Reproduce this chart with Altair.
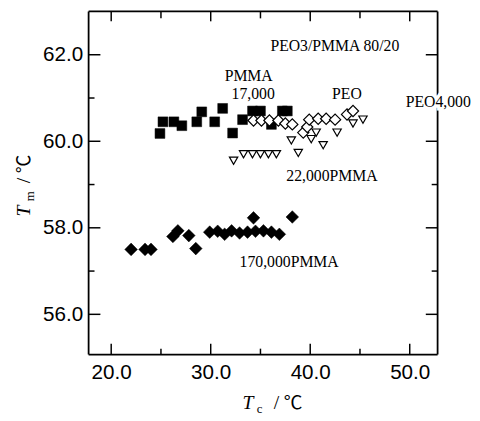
import altair as alt
import pandas as pd

# PMMA 17,000 (filled squares)
sq_x = [24.9, 25.2, 26.3, 27.1, 28.6, 29.1, 30.4, 31.2, 32.2, 33.2, 34.2, 35.0, 36.1, 37.2, 37.7]
sq_y = [60.18, 60.45, 60.45, 60.36, 60.45, 60.68, 60.45, 60.76, 60.19, 60.5, 60.70, 60.70, 60.39, 60.70, 60.70]

# PEO4,000 (open diamonds)
od_x = [34.3, 35.1, 35.9, 36.8, 37.5, 38.2, 39.3, 39.7, 39.9, 40.8, 41.6, 42.5, 43.7, 44.3]
od_y = [60.48, 60.48, 60.48, 60.48, 60.41, 60.39, 60.2, 60.33, 60.5, 60.52, 60.52, 60.5, 60.62, 60.7]

# 22,000 PMMA (open down triangles)
tr_x = [32.3, 33.3, 34.2, 35.0, 35.8, 36.6, 38.1, 38.8, 40.1, 40.6, 41.3, 42.7, 44.3, 45.3]
tr_y = [59.55, 59.70, 59.70, 59.70, 59.70, 59.70, 60.02, 59.73, 60.05, 60.2, 59.91, 60.2, 60.41, 60.5]

# 170,000 PMMA (filled diamonds)
fd_x = [22.0, 23.4, 24.0, 26.2, 26.7, 27.8, 28.5, 29.9, 30.7, 31.4, 32.1, 32.9, 33.7, 34.3,
        34.5, 35.3, 36.1, 36.9, 38.2]
fd_y = [57.5, 57.5, 57.5, 57.8, 57.93, 57.82, 57.52, 57.9, 57.92, 57.85, 57.93, 57.88, 57.9, 58.23,
        57.92, 57.93, 57.9, 57.85, 58.25]

# annotations (data coordinates, left-aligned)
ann_text = ["PEO3/PMMA 80/20", "PMMA", "17,000", "PEO", "PEO4,000", "22,000PMMA", "170,000PMMA"]
ann_x = [36.0, 31.4, 32.1, 42.2, 49.6, 37.6, 32.9]
ann_y = [62.2, 61.5, 61.1, 61.1, 60.9, 59.2, 57.2]

x_major = [20, 30, 40, 50]
x_minor = [25, 35, 45]
y_major = [56, 58, 60, 62]
y_minor = [57, 59, 61]

W, H = 355, 349
xs = alt.Scale(domain=[17.73, 52.8], nice=False, zero=False)
ys = alt.Scale(domain=[55.07, 63.0], nice=False, zero=False)

XA = alt.Axis(values=x_major, format=".1f", ticks=False, tickSize=0, domain=False, grid=False,
              labelFont="Liberation Sans", labelFontSize=21, labelColor="black",
              labelPadding=7, title=None)
YA = alt.Axis(values=y_major, format=".1f", ticks=False, tickSize=0, domain=False, grid=False,
              labelFont="Liberation Sans", labelFontSize=21, labelColor="black",
              labelPadding=6, title=None)

X = lambda f: alt.X(f, scale=xs, axis=XA)
Y = lambda f: alt.Y(f, scale=ys, axis=YA)


def pts(xv, yv, shape, size, fill, stroke, sw):
    df = pd.DataFrame({"x": xv, "y": yv})
    return alt.Chart(df).mark_point(shape=shape, size=size, filled=True, fill=fill, stroke=stroke,
                                    strokeWidth=sw, opacity=1).encode(x=X("x:Q"), y=Y("y:Q"))


squares = pts(sq_x, sq_y, "square", 100, "black", "black", 0.5)
tris = pts(tr_x, tr_y, "triangle-down", 72, "white", "black", 1.2)
odia = pts(od_x, od_y, "diamond", 130, "white", "black", 1.2)
fdia = pts(fd_x, fd_y, "diamond", 165, "black", "black", 0.5)


def xticks(vals, y0, y1):
    return alt.Chart(pd.DataFrame({"v": vals})).mark_rule(color="black", strokeWidth=1.5).encode(
        x=X("v:Q"), y=alt.value(y0), y2=alt.value(y1))


def yticks(vals, x0, x1):
    return alt.Chart(pd.DataFrame({"v": vals})).mark_rule(color="black", strokeWidth=1.5).encode(
        y=Y("v:Q"), x=alt.value(x0), x2=alt.value(x1))


ticks = [
    xticks(x_major, H, H - 11), xticks(x_minor, H, H - 6),
    xticks(x_major, 0, 10), xticks(x_minor, 0, 7),
    yticks(y_major, 0, 12), yticks(y_minor, 0, 6),
    yticks(y_major, W, W - 12), yticks(y_minor, W, W - 6),
]


def frame_line(x0, x1, y0, y1):
    return alt.Chart(pd.DataFrame({"k": [0]})).mark_rule(color="black", strokeWidth=1.8).encode(
        x=alt.value(x0), x2=alt.value(x1), y=alt.value(y0), y2=alt.value(y1))


frame = [
    frame_line(0, 0, 0, H), frame_line(W, W, 0, H),
    frame_line(0, W, 0, 0), frame_line(0, W, H, H),
]

ann_df = pd.DataFrame({"t": ann_text, "x": ann_x, "y": ann_y})
ann_halo = alt.Chart(ann_df).mark_text(
    font="Liberation Serif", fontSize=16, align="left", baseline="middle",
    color="white", stroke="white", strokeWidth=7).encode(x=X("x:Q"), y=Y("y:Q"), text="t:N")
ann = alt.Chart(ann_df).mark_text(
    font="Liberation Serif", fontSize=16, align="left", baseline="middle",
    color="black").encode(x=X("x:Q"), y=Y("y:Q"), text="t:N")


def ptext(txt, px, py, size, font="Liberation Serif", style="normal", angle=0, align="center"):
    return alt.Chart(pd.DataFrame({"t": [txt]})).mark_text(
        font=font, fontSize=size, fontStyle=style, angle=angle, align=align,
        baseline="alphabetic", color="black").encode(
        x=alt.value(px), y=alt.value(py), text="t:N")


titles = [
    # x title: T_c / ℃
    ptext("T", 162, 404, 20, style="italic"),
    ptext("c", 174, 408, 13),
    ptext("/", 191, 404, 20),
    ptext("℃", 208, 404, 19, font="Noto Sans CJK JP"),
    # y title: T_m / ℃ (rotated)
    ptext("T", -60, 203, 20, style="italic", angle=270),
    ptext("m", -56, 188, 13, angle=270),
    ptext("/", -60, 172, 20, angle=270),
    ptext("℃", -60, 155, 19, font="Noto Sans CJK JP", angle=270),
]

chart = alt.layer(
    *frame, *ticks, ann_halo, squares, tris, odia, fdia, ann, *titles
).properties(
    width=W, height=H,
    background="white",
    autosize=alt.AutoSizeParams(type="none"),
    padding={"left": 82, "top": 0, "right": 35, "bottom": 62},
).configure_view(
    stroke=None
)

chart.save("out.html", embed_options={"renderer": "svg", "actions": False})
